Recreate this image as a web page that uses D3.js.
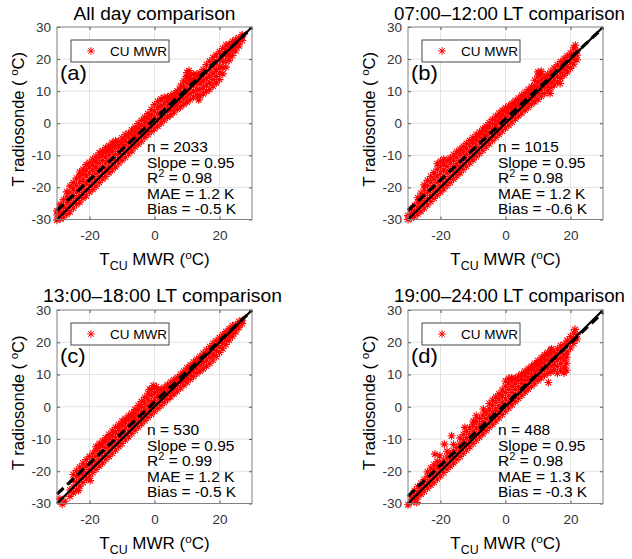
<!DOCTYPE html>
<html><head><meta charset="utf-8">
<script src="https://cdn.jsdelivr.net/npm/d3@7"></script>
<style>body{margin:0;background:#fff} svg{display:block;font-family:"Liberation Sans",Arial,Helvetica,sans-serif}</style>
</head><body><svg id="c" width="632" height="559"></svg>
<script>
const panelTitles = ["All day comparison","07:00\u201312:00 LT comparison","13:00\u201318:00 LT comparison","19:00\u201324:00 LT comparison"];
const panelLetters = ["(a)","(b)","(c)","(d)"];
const legendLabel = "CU MWR";
const statN = [2033,1015,530,488];
const statSlope = [0.95,0.95,0.95,0.95];
const statR2 = [0.98,0.98,0.99,0.98];
const statMAE = [1.2,1.2,1.2,1.3];
const statBias = [-0.5,-0.6,-0.5,-0.3];
const fitIntercept = [1.3,1.3,1.4,0.8];
const axisDomain = [-30,30];
const xTicks = [-20,0,20];
const yTicks = [-30,-20,-10,0,10,20,30];

// scatter points: [T_CU MWR, [T radiosonde values]]
const pointsA = [
[-30,[-30.2,-28.6,-27.3]],[-29,[-29.8,-28,-26.5,-25.3]],[-28,[-29.3,-27.5,-25.8,-23.8]],
[-27,[-28.4,-26.6,-24.7,-22.9,-21.4]],[-26,[-27.6,-25.5,-23.6,-21.5,-19.6]],[-25,[-26.4,-24.6,-22.5,-20.4,-18.5]],
[-24,[-25.3,-23.4,-21.4,-19.3,-17.1]],[-23,[-24.6,-22.5,-20.5,-18.3,-16.4,-15.2]],[-22,[-23.4,-21.6,-19.5,-17.6,-15.7,-14.3]],
[-21,[-22.6,-20.7,-18.6,-16.4,-14.5,-12.9]],[-20,[-21.4,-19.5,-17.6,-15.5,-13.6,-12.2]],[-19,[-20.6,-18.6,-16.5,-14.6,-12.7,-11.2]],
[-18,[-19.6,-17.5,-15.6,-13.6,-11.8,-10.3]],[-17,[-18.5,-16.6,-14.6,-12.5,-10.7,-9.2]],[-16,[-17.4,-15.5,-13.6,-11.6,-9.9,-8.6]],
[-15,[-16.6,-14.5,-12.4,-10.5,-8.9,-7.6]],[-14,[-15.4,-13.6,-11.5,-9.6,-8.1,-7]],[-13,[-14.5,-12.6,-10.6,-8.7,-7.2,-6.1]],
[-12,[-13.6,-11.6,-9.7,-7.8,-6.4,-5.5]],[-11,[-12.4,-10.6,-8.8,-7,-5.6]],[-10,[-11.5,-9.7,-7.8,-6.1,-4.6]],
[-9,[-10.6,-8.8,-6.9,-5.2,-3.6]],[-8,[-9.5,-7.8,-6,-4.3,-3.1]],[-7,[-8.6,-6.8,-5,-3.4,-2.1]],
[-6,[-7.4,-5.7,-4,-2.4,-1.2]],[-5,[-6.5,-4.8,-3,-1.4,-0.1]],[-4,[-5.6,-3.7,-2,-0.5,0.9]],
[-3,[-4.4,-2.7,-1,0.6,1.9]],[-2,[-3.5,-1.7,0,1.6,3]],[-1,[-2.6,-0.8,1,2.7,4.3]],
[0,[-1.7,0.1,1.9,3.8,5.8]],[1,[-0.9,1,2.9,4.8,6.8]],[2,[0.1,1.8,3.6,5.5,7.6]],
[3,[1,2.8,4.5,6.3,8]],[4,[1.9,3.7,5.4,7,8.2]],[5,[2.6,4.4,6.2,7.6,8.6]],
[6,[3.5,5.3,7,8.4,9.2]],[7,[4.4,6.1,7.8,9.3,10.1]],[8,[5.1,6.9,8.7,10.3,11.6]],
[9,[5.9,7.8,9.6,11.4,13.2]],[9.8,[14.6]],[10,[6.6,8.5,10.4,12.5,15.8]],[10.6,[16.4,14]],[11,[7.4,9.3,11.2,13.2,15]],
[12,[8.2,10,11.9,13.6,15.3]],[13,[8.8,10.6,12.5,14.3,15.2]],[13.6,[7.3]],
[14,[8.6,10.5,12.6,14.2,15.7]],[15,[9.2,11.2,13.2,15.1,16.8]],[16,[10,12,14,16,18.3]],
[17,[10.6,12.6,14.7,16.9,19.3]],[18,[11.6,13.6,15.7,17.8,20.4]],[19,[12.6,14.6,16.7,18.8,21.3]],
[20,[13.6,15.6,17.6,19.8,22.3]],[21,[15.4,17.4,19.4,21.4,23.3]],[22,[17.5,19.4,21.3,23,24.4]],
[23,[19.6,21.3,23,24.6]],[24,[21.1,22.8,24.3,25.5]],[25,[22.6,24.1,25.4,26.1]],
[26,[24.1,25.4,26.6]],[27,[25.8,26.9,27.6]]
];
const pointsB = [
[-30,[-30,-28.8]],[-29,[-29.6,-28.2,-26.8]],[-28,[-29,-27.3,-25.6]],[-27,[-28.2,-26.4,-24.6,-23.2]],
[-26,[-27.4,-25.5,-23.6,-21.8]],[-25,[-26.4,-24.5,-22.4,-20.5,-19.2]],[-24,[-25.4,-23.5,-21.5,-19.4,-17.8]],
[-23,[-24.4,-22.5,-20.4,-18.4,-16.6]],[-22,[-23.4,-21.5,-19.5,-17.4,-15.4]],[-21,[-22.4,-20.6,-18.5,-16.4,-14.3,-12.6]],
[-20,[-21.4,-19.6,-17.6,-15.5,-13.4,-11.8]],[-19,[-20.4,-18.6,-16.6,-14.6,-12.6,-11.2]],[-18,[-19.4,-17.5,-15.5,-13.5,-11.6]],
[-17,[-18.5,-16.6,-14.5,-12.4,-10.8]],[-16,[-17.4,-15.5,-13.5,-11.5,-9.8]],[-15,[-16.4,-14.6,-12.6,-10.6,-8.9]],
[-14,[-15.4,-13.6,-11.6,-9.6,-8.1]],[-13,[-14.4,-12.6,-10.6,-8.7,-7.2]],[-12,[-13.4,-11.6,-9.7,-7.8,-6.3]],
[-11,[-12.4,-10.6,-8.7,-6.8,-5.4]],[-10,[-11.4,-9.6,-7.7,-5.8,-4.5]],[-9,[-10.4,-8.6,-6.7,-4.9,-3.6]],
[-8,[-9.4,-7.6,-5.7,-4,-2.8]],[-7,[-8.4,-6.6,-4.8,-3,-1.8]],[-6,[-7.4,-5.6,-3.8,-2.1,-0.9]],
[-5,[-6.4,-4.6,-2.8,-1.1,0.2]],[-4,[-5.4,-3.6,-1.8,-0.1,1.2]],[-3,[-4.4,-2.6,-0.8,0.9,2.2]],
[-2,[-3.4,-1.6,0.2,1.9,3.1]],[-1,[-2.4,-0.6,1.2,2.8,4]],[0,[-1.5,0.3,2.1,3.7,4.8]],
[1,[-0.6,1.2,3,4.5,5.4]],[2,[0.4,2.2,3.9,5.3,6.2]],[3,[1.4,3.1,4.8,6.1,7]],
[4,[2.3,4,5.7,7,7.8]],[5,[3.2,4.9,6.6,7.9,8.7]],[6,[4.1,5.8,7.5,8.8,9.6]],
[7,[5,6.7,8.4,9.7,10.5]],[8,[5.9,7.6,9.3,10.6,11.4]],[9,[6.7,8.4,10.2,11.8,13.4]],
[10,[7.5,9.3,11.1,12.9,14.7,16]],[11,[8.4,10.2,12,13.7,15.4,16.2]],[12,[9.3,11.1,12.9,14.5]],
[13,[10.2,12,13.8,15.3]],[13.7,[9.3]],[14,[11.1,12.9,14.7,16.2]],[15,[12,13.8,15.6,17.2]],
[16,[12.9,14.7,16.5,18.2]],[16.8,[12.4]],[17,[14,15.8,17.5,19.2]],[18,[15,16.8,18.5,20.1]],
[19,[16,17.8,19.5,21]],[20,[17.1,18.9,20.5,21.9]],[21,[18.4,20.1,21.6,23.5]],[21.5,[24.3]],[22,[19.8,21.2,22.5]]
];
const pointsC = [
[-29.1,[-28.5]],[-28.4,[-30.2]],[-27.5,[-29.3]],[-26,[-27.8,-25.8]],
[-25,[-26.7,-24.8,-22.8,-21]],[-24,[-25.9,-23.5,-21.6,-19.8]],[-23.4,[-26]],[-23,[-24.6,-22.5,-20.6,-18.7]],
[-22,[-23.5,-21.4,-19.4,-17.5]],[-21,[-22.4,-20.5,-18.4,-16.4]],[-20,[-21.5,-19.5,-17.5,-15.4]],[-19.8,[-22.9]],
[-19,[-20.4,-18.4,-16.3,-14.4]],[-18,[-19.4,-17.4,-15.4,-13.6,-12.4]],[-17,[-18.4,-16.5,-14.4,-12.6,-11.5]],
[-16,[-17.4,-15.5,-13.6,-11.8,-10.6]],[-15,[-16.3,-14.5,-12.6,-10.8,-9.6]],[-14,[-15.4,-13.5,-11.6,-9.7,-8.6]],
[-13,[-14.4,-12.5,-10.6,-8.8,-7.5]],[-12,[-13.4,-11.6,-9.6,-7.8,-6.4]],[-11,[-12.3,-10.5,-8.6,-6.8,-5.6]],
[-10,[-11.4,-9.5,-7.6,-5.7,-4.4]],[-9,[-10.3,-8.5,-6.6,-4.8,-3.7]],[-8,[-9.3,-7.5,-5.7,-3.9,-2.8]],
[-7,[-8.3,-6.5,-4.7,-3,-2]],[-6,[-7.3,-5.5,-3.7,-2,-0.8]],[-5,[-6.3,-4.5,-2.7,-0.9,0.4]],
[-4,[-5.3,-3.5,-1.7,0.2,1.6]],[-3,[-4.3,-2.5,-0.6,1.4,2.9]],[-2,[-3.3,-1.4,0.5,2.5,4.2]],
[-1.5,[5.4]],[-1,[-2.3,-0.5,1.5,3.5,5.3]],[-0.4,[6.6]],[0,[-1.4,0.5,2.4,4.3,5.8]],[0.6,[6.2]],[1,[-0.5,1.4,3.2,4.9]],
[2,[0.4,2.2,3.9,5.4]],[3,[1.3,3,4.6,6]],[4,[2.2,3.9,5.5,6.8]],[5,[3.1,4.8,6.4,7.6]],
[6,[4,5.7,7.3,8.3]],[7,[4.9,6.6,8.2,9.1]],[8,[5.8,7.5,9.1,10]],[9,[6.7,8.4,10,11]],
[10,[7.6,9.3,11,12]],[11,[8.5,10.2,11.9,12.9]],[12,[9.4,11.1,12.8,13.8]],[13,[10.3,12,13.7,14.7]],
[14,[11.1,12.9,14.6,15.6]],[15,[11.8,13.7,15.5,16.6]],[16,[12.6,14.5,16.4,17.6]],[17,[13.5,15.4,17.3,18.6]],
[18,[14.5,16.4,18.3,19.6]],[19,[15.6,17.4,19.2,20.5]],[20,[16.8,18.5,20.2,21.4]],[21,[18,19.6,21.2,22.3]],
[22,[19.3,20.8,22.2,23.3]],[23,[20.6,22,23.3,24.2]],[24,[21.9,23.2,24.4,25.1]],[25,[23.2,24.4,25.4]],
[26,[24.5,25.6,26.4]],[27,[25.8,26.8]]
];
const pointsD = [
[-30,[-30.4]],[-29,[-29.6,-28]],[-28,[-28.8,-27.3,-26]],[-27.3,[-29.7]],[-27,[-27.9,-26.4,-24.8]],
[-26,[-27.1,-25.4,-23.8]],[-25,[-26.2,-24.5,-22.6]],[-24,[-25.2,-23.4,-21.6,-20.2]],[-23,[-24.3,-22.5,-20.6,-19]],
[-22,[-23.4,-21.5,-19.6,-18]],[-21.7,[-14.7]],[-21,[-22.4,-20.5,-18.6,-17]],[-20.2,[-17.3,-15.2]],
[-20,[-21.4,-19.5,-17.8]],[-19,[-20.4,-18.5,-16.6]],[-18.8,[-11.6]],[-18,[-19.4,-17.5,-15.6,-13.8]],
[-17,[-18.4,-16.5,-14.6]],[-16.6,[-9]],[-16,[-17.4,-15.5,-13.6,-11.7]],[-15,[-16.4,-14.5,-12.6]],
[-14,[-15.4,-13.5,-11.6,-9.7]],[-13,[-14.4,-12.5,-10.6,-8.6]],[-12.5,[-6.4]],[-12,[-13.4,-11.5,-9.6,-7.7]],
[-11,[-12.4,-10.5,-8.6,-6.5]],[-10,[-11.4,-9.5,-7.6,-5.6]],[-9.9,[-4.4]],[-9,[-10.4,-8.5,-6.6,-4.6,-2.8]],
[-8,[-9.4,-7.5,-5.6,-3.6]],[-7,[-8.4,-6.5,-4.6,-2.6]],[-6.8,[-0.7]],[-6,[-7.4,-5.5,-3.6,-1.6]],
[-5,[-6.4,-4.5,-2.6,-0.6,1]],[-4,[-5.4,-3.5,-1.6,0.4,2]],[-3,[-4.4,-2.5,-0.6,1.4,3]],
[-2,[-3.4,-1.5,0.4,2.4,4]],[-1,[-2.4,-0.5,1.4,3.4,5.2]],[0,[-1.4,0.5,2.4,4.4,6.4,8]],
[1,[-0.4,1.5,3.4,5.4,7.4,8.8]],[1.9,[9]],[2,[0.6,2.5,4.4,6.4,8.2]],[3,[1.6,3.5,5.4,7.3,8.8]],
[4,[2.6,4.5,6.3,8.1,9.5]],[5,[3.6,5.4,7.2,8.9,10.2]],[6,[4.6,6.3,8.1,9.8,11]],
[7,[5.5,7.2,9,10.7,11.8]],[8,[6.4,8.1,9.9,11.6,12.6]],[9,[7.3,9,10.8,12.5,13.4]],
[10,[8.2,9.9,11.7,13.3,14.3]],[11,[9,10.8,12.6,14.2,15.2]],[12,[9.8,11.6,13.5,15.1,16.1]],
[13,[10.4,12.3,14.3,16,16.8]],[13.2,[7.5]],[14,[10.8,12.8,14.8,16.6,17.6]],[14.2,[17.9]],
[15,[11.5,13.2,15.1,16.8]],[16,[10.4,12.5,14.6,16.5,18]],[17,[11.4,13.4,15.3,17.2,18.9]],
[18,[10.5,12.3,14.4,16.2,19.3]],[18.8,[11.3,13.5,15.4]],[19,[17,19.6,20.6]],[20,[18.2,20.2,21.8]],
[21,[19.6,21.2,22.8]],[21.4,[24]],[22,[21,22.4]]
];
const allPoints = [pointsA,pointsB,pointsC,pointsD];

// layout (pixels)
const L = [
 {x0:57,x1:252,y0:27,y1:219.5,tx:154.5,ta:"middle",tl:162,ty:20},
 {x0:408,x1:603,y0:27,y1:219.5,tx:394,ta:"start",tl:231,ty:20},
 {x0:57,x1:252,y0:310,y1:503.5,tx:43,ta:"start",tl:239,ty:301.5},
 {x0:408,x1:603,y0:310,y1:503.5,tx:394,ta:"start",tl:231,ty:301.5}
];

const svg = d3.select("#c");
const star = r => { const d = r*0.7071; return `M${-r},0H${r}M0,${-r}V${r}M${-d},${-d}L${d},${d}M${-d},${d}L${d},${-d}`; };
const fmt2 = d3.format(".2f"), fmt1 = d3.format(".1f");
const hy = s => s.replace("\u2212","-");

allPoints.forEach((cols, i) => {
  const P = L[i];
  const x = d3.scaleLinear().domain(axisDomain).range([P.x0, P.x1]);
  const y = d3.scaleLinear().domain(axisDomain).range([P.y1, P.y0]);
  const g = svg.append("g");

  // grid
  g.append("g").selectAll("line").data(xTicks).join("line")
    .attr("x1", d => x(d)).attr("x2", d => x(d)).attr("y1", P.y0).attr("y2", P.y1)
    .attr("stroke", "#dfdfdf").attr("stroke-width", 0.9);
  g.append("g").selectAll("line").data(yTicks.filter(d => d > axisDomain[0] && d < axisDomain[1])).join("line")
    .attr("y1", d => y(d)).attr("y2", d => y(d)).attr("x1", P.x0).attr("x2", P.x1)
    .attr("stroke", "#dfdfdf").attr("stroke-width", 0.9);

  // scatter
  const pts = cols.flatMap(([px, ys]) => ys.map(py => [px, py]));
  g.append("g").selectAll("path").data(pts).join("path")
    .attr("transform", d => `translate(${x(d[0])},${y(d[1])})`)
    .attr("d", star(4)).attr("fill", "none").attr("stroke", "#ff0000").attr("stroke-width", 1.1);

  // regression (dashed) and 1:1 (solid)
  const fit = axisDomain.map(v => [v, statSlope[i]*v + fitIntercept[i]]);
  const line = d3.line().x(d => x(d[0])).y(d => y(d[1]));
  g.append("path").attr("d", line(fit)).attr("fill", "none").attr("stroke", "#000")
    .attr("stroke-width", 3.2).attr("stroke-dasharray", "9,5");
  g.append("path").attr("d", line(axisDomain.map(v => [v, v]))).attr("fill", "none")
    .attr("stroke", "#000").attr("stroke-width", 2.2);

  // axes
  const styleAxis = sel => { sel.select(".domain").remove();
    sel.selectAll(".tick line").attr("stroke", "#555");
    sel.selectAll(".tick text").attr("fill", "#333").attr("font-size", 13.5)
      .attr("font-family", '"Liberation Sans",Arial,sans-serif'); };
  g.append("g").attr("transform", `translate(0,${P.y1})`)
    .call(d3.axisBottom(x).tickValues(xTicks).tickSize(-3).tickPadding(11).tickFormat(d => hy(String(d)))).call(styleAxis);
  g.append("g").attr("transform", `translate(0,${P.y0})`)
    .call(d3.axisTop(x).tickValues(xTicks).tickSize(-3).tickFormat("")).call(styleAxis);
  g.append("g").attr("transform", `translate(${P.x0},0)`)
    .call(d3.axisLeft(y).tickValues(yTicks).tickSize(-3).tickPadding(6).tickFormat(d => hy(String(d)))).call(styleAxis);
  g.append("g").attr("transform", `translate(${P.x1},0)`)
    .call(d3.axisRight(y).tickValues(yTicks).tickSize(-3).tickFormat("")).call(styleAxis);
  g.append("rect").attr("x", P.x0).attr("y", P.y0).attr("width", P.x1 - P.x0).attr("height", P.y1 - P.y0)
    .attr("fill", "none").attr("stroke", "#808080").attr("stroke-width", 1);

  // legend
  g.append("rect").attr("x", P.x0 + 14).attr("y", P.y0 + 13).attr("width", 98).attr("height", 22)
    .attr("fill", "#fff").attr("stroke", "#333").attr("stroke-width", 0.9);
  g.append("path").attr("transform", `translate(${P.x0 + 34},${P.y0 + 24})`).attr("d", star(3.8))
    .attr("fill", "none").attr("stroke", "#ff0000").attr("stroke-width", 1);
  g.append("text").attr("x", P.x0 + 53).attr("y", P.y0 + 29).attr("font-size", 13.5).attr("fill", "#000")
    .text(legendLabel);

  // panel letter
  g.append("text").attr("transform", `translate(${P.x0 + 3},${P.y0 + 53}) scale(1.1,1)`)
    .attr("font-size", 20).attr("fill", "#000").text(panelLetters[i]);

  // stats
  const sx = P.x0 + 90, sy = P.y0 + 125, dl = 15.6;
  const st = g.append("g").attr("font-size", 15.5).attr("fill", "#000");
  st.append("text").attr("x", sx).attr("y", sy).text(`n = ${statN[i]}`);
  st.append("text").attr("x", sx).attr("y", sy + dl).text(`Slope = ${fmt2(statSlope[i])}`);
  const r2 = st.append("text").attr("x", sx).attr("y", sy + 2*dl);
  r2.append("tspan").text("R");
  r2.append("tspan").attr("font-size", 11).attr("dy", -6).text("2");
  r2.append("tspan").attr("dy", 6).text(` = ${fmt2(statR2[i])}`);
  st.append("text").attr("x", sx).attr("y", sy + 3*dl).text(`MAE = ${fmt1(statMAE[i])} K`);
  st.append("text").attr("x", sx).attr("y", sy + 4*dl).text(`Bias = ${hy(fmt1(statBias[i]))} K`);

  // title
  g.append("text").attr("x", P.tx).attr("y", P.ty).attr("text-anchor", P.ta).attr("font-size", 17.5)
    .attr("textLength", P.tl).attr("lengthAdjust", "spacingAndGlyphs").attr("fill", "#000").text(panelTitles[i]);

  // y label
  const yl = g.append("text").attr("transform", `translate(${P.x0 - 33.5},${(P.y0 + P.y1)/2 - 4}) rotate(-90)`)
    .attr("text-anchor", "middle").attr("font-size", 16.5).attr("fill", "#000");
  yl.append("tspan").text("T radiosonde ( ");
  yl.append("tspan").attr("font-size", 11.5).attr("dy", -6).text("o");
  yl.append("tspan").attr("dy", 6).text("C)");

  // x label
  const xl = g.append("text").attr("transform", `translate(${(P.x0 + P.x1)/2},${P.y1 + 45.5}) scale(1.03,1)`)
    .attr("text-anchor", "middle").attr("font-size", 16.5).attr("fill", "#000");
  xl.append("tspan").text("T");
  xl.append("tspan").attr("font-size", 12).attr("dy", 5).text("CU");
  xl.append("tspan").attr("dy", -5).text(" MWR (");
  xl.append("tspan").attr("font-size", 11.5).attr("dy", -6).text("o");
  xl.append("tspan").attr("dy", 6).text("C)");
});
</script>
</body></html>
